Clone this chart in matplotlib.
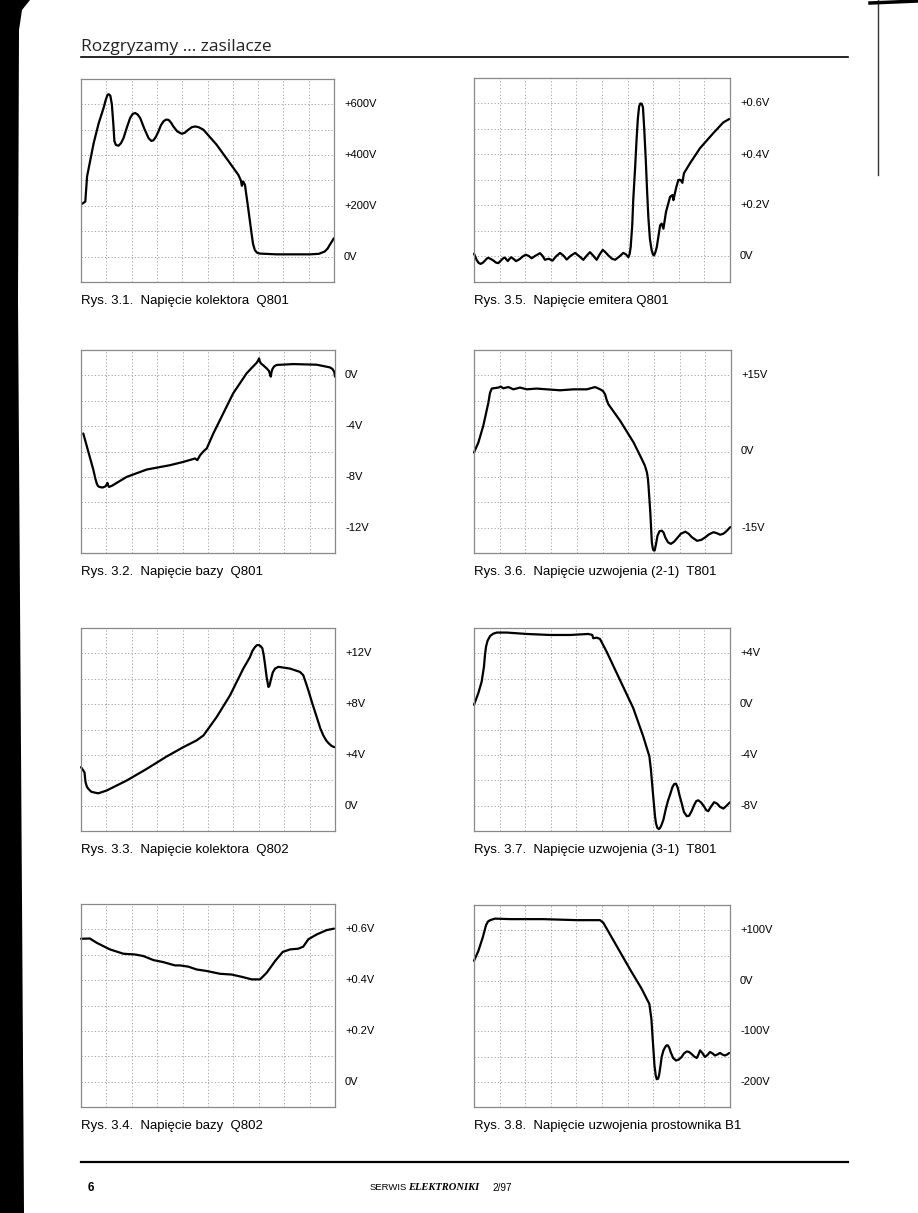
import matplotlib
matplotlib.use("Agg")
import matplotlib.pyplot as plt
import numpy as np
from matplotlib.patches import Polygon
from matplotlib.lines import Line2D

plt.rcParams['font.family'] = ['Liberation Sans', 'DejaVu Sans']

# --- dane (os x w dzialkach ekranu 0..10, os y w woltach) ---

# Rys. 3.1 napiecie kolektora Q801
t31 = [0.04, 0.17, 0.24, 0.5, 0.7, 0.89, 0.97, 1.05, 1.1, 1.16, 1.22, 1.28, 1.32, 1.38, 1.48,
       1.58, 1.68, 1.8, 1.94, 2.04, 2.14, 2.24, 2.34, 2.5, 2.67, 2.78, 2.86, 2.96, 3.06, 3.16,
       3.26, 3.36, 3.46, 3.56, 3.65, 3.8, 3.98, 4.1, 4.24, 4.38, 4.51, 4.65, 4.84, 5.36, 5.89,
       6.22, 6.32, 6.36, 6.41, 6.48, 6.6, 6.74, 6.8, 6.87, 6.95, 7.07, 7.73, 9.04, 9.4, 9.63,
       9.75, 9.83, 9.92, 9.99]
v31 = [208, 217, 316, 447, 526, 585, 615, 638, 640, 634, 600, 520, 455, 440, 437,
       447, 467, 505, 546, 562, 566, 560, 546, 505, 467, 456, 458, 472, 493, 518,
       533, 540, 539, 528, 513, 494, 484, 488, 500, 510, 513, 510, 500, 441, 368,
       322, 300, 279, 296, 283, 197, 92, 50, 26, 16, 12, 9, 9, 11, 20,
       32, 46, 60, 72]

# Rys. 3.2 napiecie bazy Q801
t32 = [0.09, 0.29, 0.49, 0.56, 0.62, 0.67, 0.72, 0.85, 0.97, 1.01, 1.04, 1.07, 1.1, 1.21, 1.8,
       2.59, 3.5, 4.03, 4.49, 4.58, 4.69, 4.84, 4.95, 5.21, 5.6, 5.99, 6.52, 6.75, 6.92, 6.98,
       7.01, 7.04, 7.08, 7.2, 7.31, 7.4, 7.47, 7.5, 7.53, 7.6, 7.7, 8.36, 9.28, 9.8, 9.9,
       9.97, 10.0]
v32 = [-4.58, -6.03, -7.47, -8.1, -8.53, -8.72, -8.79, -8.84, -8.74, -8.6, -8.47, -8.68, -8.79,
       -8.71, -8.0, -7.42, -7.08, -6.82, -6.55, -6.68, -6.29, -5.95, -5.76, -4.58, -3.0, -1.42,
       0.16, 0.65, 1.0, 1.2, 1.34, 1.1, 0.95, 0.75, 0.55, 0.35, -0.1, 0.25, 0.47, 0.7, 0.82,
       0.89, 0.84, 0.63, 0.5, 0.29, -0.1]

# Rys. 3.3 napiecie kolektora Q802
t33 = [0.0, 0.09, 0.14, 0.16, 0.18, 0.23, 0.29, 0.4, 0.49, 0.68, 1.01, 1.8, 2.59, 3.37, 4.03,
       4.55, 4.82, 5.34, 5.87, 6.39, 6.65, 6.75, 6.85, 6.93, 7.01, 7.08, 7.14, 7.19, 7.24, 7.31,
       7.38, 7.42, 7.47, 7.55, 7.64, 7.77, 8.23, 8.62, 8.75, 8.85, 8.95, 9.1, 9.28, 9.42, 9.54,
       9.65, 9.74, 9.87, 9.97]
v33 = [3.03, 2.77, 2.6, 2.2, 1.84, 1.5, 1.32, 1.1, 1.05, 0.97, 1.19, 1.98, 2.9, 3.87, 4.61,
       5.14, 5.53, 6.98, 8.7, 10.8, 11.7, 12.2, 12.5, 12.65, 12.65, 12.55, 12.4, 11.9, 11.2, 10.1,
       9.35, 9.45, 9.88, 10.5, 10.8, 10.94, 10.8, 10.54, 10.28, 9.7, 9.09, 8.1, 6.98, 6.1, 5.53,
       5.15, 4.93, 4.7, 4.61]

# Rys. 3.4 napiecie bazy Q802
t34 = [0.0, 0.35, 0.62, 1.14, 1.67, 2.13, 2.45, 2.85, 3.24, 3.7, 3.9, 4.23, 4.55, 4.95, 5.47,
       5.93, 6.33, 6.72, 7.05, 7.31, 7.64, 7.94, 8.23, 8.56, 8.75, 8.95, 9.28, 9.67, 9.96]
v34 = [0.563, 0.564, 0.547, 0.521, 0.504, 0.501, 0.495, 0.479, 0.471, 0.458, 0.458, 0.453, 0.442,
       0.436, 0.425, 0.422, 0.413, 0.403, 0.403, 0.429, 0.475, 0.511, 0.521, 0.524, 0.532, 0.561,
       0.58, 0.597, 0.603]

# Rys. 3.5 napiecie emitera Q801
t35 = [0.0, 0.05, 0.1, 0.18, 0.26, 0.35, 0.43, 0.5, 0.56, 0.66, 0.76, 0.86, 0.95, 1.04, 1.12,
       1.17, 1.21, 1.27, 1.32, 1.38, 1.45, 1.55, 1.64, 1.72, 1.8, 1.9, 2.02, 2.14, 2.25, 2.4,
       2.58, 2.68, 2.77, 2.86, 2.94, 3.0, 3.07, 3.2, 3.36, 3.5, 3.62, 3.78, 3.95, 4.1, 4.27,
       4.4, 4.53, 4.66, 4.79, 4.92, 5.03, 5.14, 5.25, 5.38, 5.51, 5.68, 5.83, 5.94, 6.03, 6.08,
       6.12, 6.18, 6.22, 6.3, 6.35, 6.4, 6.45, 6.5, 6.55, 6.6, 6.65, 6.71, 6.76, 6.81, 6.87,
       6.94, 6.99, 7.03, 7.08, 7.14, 7.27, 7.33, 7.4, 7.5, 7.66, 7.75, 7.79, 7.89, 7.98, 8.07,
       8.14, 8.2, 8.44, 8.83, 9.35, 9.74, 9.97]
v35 = [0.011, 0.0, -0.013, -0.025, -0.029, -0.024, -0.016, -0.008, -0.005, -0.01, -0.016, -0.024,
       -0.026, -0.017, -0.009, -0.005, -0.005, -0.012, -0.018, -0.01, -0.003, -0.01, -0.018,
       -0.014, -0.009, 0.0, 0.007, 0.002, -0.007, 0.003, 0.013, 0.002, -0.013, -0.01, -0.009,
       -0.013, -0.016, 0.0, 0.014, 0.003, -0.012, 0.003, 0.014, 0.002, -0.013, 0.003, 0.017,
       0.003, -0.013, 0.01, 0.026, 0.016, 0.004, -0.008, -0.013, 0.0, 0.014, 0.008, -0.003, 0.01,
       0.037, 0.12, 0.221, 0.36, 0.458, 0.54, 0.589, 0.6, 0.599, 0.585, 0.5, 0.379, 0.26, 0.155,
       0.07, 0.024, 0.008, 0.004, 0.015, 0.037, 0.122, 0.129, 0.109, 0.175, 0.234, 0.241, 0.221,
       0.267, 0.3, 0.3, 0.289, 0.326, 0.366, 0.425, 0.484, 0.526, 0.539]

# Rys. 3.6 napiecie uzwojenia (2-1) T801
t36 = [0.0, 0.17, 0.36, 0.56, 0.62, 0.69, 0.82, 0.95, 1.04, 1.14, 1.34, 1.53, 1.79, 2.05, 2.44,
       2.83, 3.35, 3.87, 4.39, 4.71, 4.91, 5.02, 5.1, 5.16, 5.23, 5.69, 6.21, 6.53, 6.65, 6.73,
       6.77, 6.79, 6.86, 6.92, 6.96, 6.99, 7.03, 7.08, 7.14, 7.22, 7.31, 7.38, 7.44, 7.55, 7.66,
       7.78, 7.9, 8.05, 8.22, 8.35, 8.48, 8.68, 8.85, 9.0, 9.15, 9.32, 9.45, 9.58, 9.7, 9.78,
       9.88, 9.97]
v36 = [-0.2, 1.77, 5.05, 9.63, 11.5, 12.4, 12.5, 12.6, 12.8, 12.45, 12.7, 12.25, 12.6, 12.25,
       12.4, 12.25, 12.06, 12.25, 12.25, 12.7, 12.25, 11.9, 11.27, 10.2, 9.3, 6.03, 1.77, -1.5,
       -2.8, -4.13, -5.5, -6.75, -12.0, -17.9, -19.2, -19.5, -19.5, -18.3, -16.6, -15.7, -15.6,
       -16.0, -16.9, -17.9, -18.2, -17.8, -17.1, -16.2, -15.8, -16.2, -16.9, -17.6, -17.4, -16.9,
       -16.3, -15.9, -16.1, -16.4, -16.2, -15.9, -15.4, -14.9]

# Rys. 3.7 napiecie uzwojenia (3-1) T801
t37 = [0.0, 0.17, 0.3, 0.39, 0.43, 0.47, 0.53, 0.63, 0.75, 0.89, 1.28, 2.06, 2.97, 3.75, 4.47,
       4.62, 4.66, 4.79, 4.92, 5.18, 5.7, 6.22, 6.61, 6.85, 6.91, 7.0, 7.07, 7.11, 7.16, 7.22,
       7.27, 7.33, 7.4, 7.5, 7.58, 7.66, 7.75, 7.82, 7.89, 7.96, 8.03, 8.11, 8.2, 8.31, 8.4,
       8.5, 8.6, 8.68, 8.76, 8.87, 8.98, 9.07, 9.15, 9.25, 9.38, 9.5, 9.61, 9.74, 9.87, 10.0]
v37 = [-0.05, 0.87, 1.78, 2.96, 3.9, 4.53, 5.0, 5.37, 5.55, 5.64, 5.64, 5.53, 5.45, 5.45, 5.53,
       5.45, 5.19, 5.24, 5.14, 4.14, 1.91, -0.31, -2.54, -4.11, -5.16, -7.26, -8.83, -9.4, -9.75,
       -9.85, -9.75, -9.5, -9.1, -8.2, -7.6, -7.13, -6.55, -6.3, -6.27, -6.6, -7.2, -7.79, -8.5,
       -8.83, -8.8, -8.44, -7.95, -7.65, -7.58, -7.75, -8.05, -8.35, -8.44, -8.1, -7.73, -7.85,
       -8.1, -8.23, -8.0, -7.73]

# Rys. 3.8 napiecie uzwojenia prostownika B1
t38 = [0.0, 0.17, 0.34, 0.47, 0.54, 0.63, 0.82, 1.41, 2.71, 4.01, 4.92, 5.05, 5.57, 6.09, 6.55,
       6.85, 6.93, 6.98, 7.02, 7.05, 7.1, 7.14, 7.19, 7.23, 7.28, 7.33, 7.4, 7.46, 7.52, 7.57,
       7.63, 7.68, 7.78, 7.89, 8.0, 8.11, 8.2, 8.31, 8.4, 8.5, 8.6, 8.7, 8.77, 8.83, 8.92, 9.02,
       9.12, 9.22, 9.32, 9.41, 9.51, 9.61, 9.7, 9.8, 9.89, 9.97]
v38 = [39.5, 59, 85.5, 110, 117, 120, 123, 122, 122, 120, 120, 115, 69, 23, -16, -46, -76, -115,
       -145, -168, -188, -195, -194, -187, -170, -151, -138, -132, -128, -128, -133, -141, -153,
       -158, -156, -151, -144, -140, -141, -145, -150, -153, -146, -138, -143, -151, -147, -141,
       -144, -148, -146, -143, -146, -148, -146, -143]

captions = ["Rys. 3.1.  Napięcie kolektora  Q801",
            "Rys. 3.2.  Napięcie bazy  Q801",
            "Rys. 3.3.  Napięcie kolektora  Q802",
            "Rys. 3.4.  Napięcie bazy  Q802",
            "Rys. 3.5.  Napięcie emitera Q801",
            "Rys. 3.6.  Napięcie uzwojenia (2-1)  T801",
            "Rys. 3.7.  Napięcie uzwojenia (3-1)  T801",
            "Rys. 3.8.  Napięcie uzwojenia prostownika B1"]

# wartosci etykiet po prawej stronie ekranu
lab_val = [[0, 200, 400, 600], [0, -4, -8, -12], [0, 4, 8, 12], [0, 0.2, 0.4, 0.6],
           [0, 0.2, 0.4, 0.6], [15, 0, -15], [4, 0, -4, -8], [100, 0, -100, -200]]
lab_txt = [["0V", "+200V", "+400V", "+600V"], ["0V", "-4V", "-8V", "-12V"],
           ["0V", "+4V", "+8V", "+12V"], ["0V", "+0.2V", "+0.4V", "+0.6V"],
           ["0V", "+0.2V", "+0.4V", "+0.6V"], ["+15V", "0V", "-15V"],
           ["+4V", "0V", "-4V", "-8V"], ["+100V", "0V", "-100V", "-200V"]]
# zakres osi y (dol, V/dzialke) - 8 dzialek w pionie
y_low = [-100, -14, -2, -0.1, -0.1, -20, -10, -250]
y_div = [100, 2, 2, 0.1, 0.1, 5, 2, 50]

series = [(t31, v31), (t32, v32), (t33, v33), (t34, v34),
          (t35, v35), (t36, v36), (t37, v37), (t38, v38)]

W, H = 918, 1213
fig = plt.figure(figsize=(W / 100, H / 100), dpi=100)

# polozenie ekranow w pikselach (lewo, gora, prawo, dol)
boxes = [(81, 79, 334, 282), (81, 350, 335, 553), (81, 628, 335, 831), (81, 904, 335, 1107),
         (474, 78, 730, 282), (474, 350, 731, 553), (474, 628, 730, 831), (474, 905, 730, 1107)]

grid_c = "#9a9a9a"
for i in range(8):
    l, t, r, b = boxes[i]
    ax = fig.add_axes([l / W, 1 - b / H, (r - l) / W, (b - t) / H])
    ax.set_xlim(0, 10)
    ax.set_ylim(y_low[i], y_low[i] + 8 * y_div[i])
    ax.set_xticks(np.arange(0, 11, 1))
    ax.set_yticks([y_low[i] + k * y_div[i] for k in range(9)])
    ax.tick_params(length=0, labelbottom=False, labelleft=False)
    ax.grid(True, color=grid_c, linestyle=(0, (1.5, 2.5)), linewidth=0.6)
    for s in ax.spines.values():
        s.set_color("#888888")
        s.set_linewidth(0.9)
    tt, vv = series[i]
    ax.plot(tt, vv, color="black", linewidth=1.6, solid_capstyle="round",
            solid_joinstyle="round", clip_on=False)
    for v, s in zip(lab_val[i], lab_txt[i]):
        ax.annotate(s, xy=(1, v), xycoords=("axes fraction", "data"), xytext=(10, 0),
                    textcoords="offset pixels", ha="left", va="center", fontsize=8)
    ax.annotate(captions[i], xy=(0, 0), xycoords="axes fraction", xytext=(0, -19),
                textcoords="offset pixels", ha="left", va="center", fontsize=9.5)

# naglowek i stopka strony
fig.text(81 / W, 1 - 47 / H, "Rozgryzamy ... zasilacze", fontsize=12.5,
         family=["Open Sans", "DejaVu Sans"], ha="left", va="center", color="#222222")
fig.add_artist(Line2D([81 / W, 848 / W], [1 - 57 / H, 1 - 57 / H], color="black", lw=1.2))
fig.add_artist(Line2D([81 / W, 848 / W], [1 - 1162 / H, 1 - 1162 / H], color="black", lw=1.6))
fig.text(88 / W, 1 - 1188 / H, "6", fontsize=8.5, fontweight="bold", ha="left", va="center")
fig.text(370 / W, 1 - 1188 / H, "SERWIS", fontsize=6.8, ha="left", va="center")
fig.text(408 / W, 1 - 1188 / H, "ELEKTRONIKI", fontsize=7.6, ha="left", va="center",
         family=["Liberation Serif"], fontweight="bold", fontstyle="italic")
fig.text(492 / W, 1 - 1188 / H, "2/97", fontsize=7.2, ha="left", va="center")

# ciemna krawedz skanu po lewej i linia po prawej
edge = [(0, 0), (30, 0), (22, 10), (19, 30), (18, 300), (20, 600), (22, 900), (24, 1213), (0, 1213)]
fig.add_artist(Polygon([(x / W, 1 - y / H) for x, y in edge], closed=True,
                       facecolor="black", edgecolor="none", transform=fig.transFigure))
fig.add_artist(Line2D([878 / W, 878 / W], [1, 1 - 175 / H], color="#333333", lw=1.0))
fig.add_artist(Line2D([870 / W, 918 / W], [1 - 3 / H, 1 - 1 / H], color="black", lw=2.5))

fig.savefig("out.png", dpi=100)
